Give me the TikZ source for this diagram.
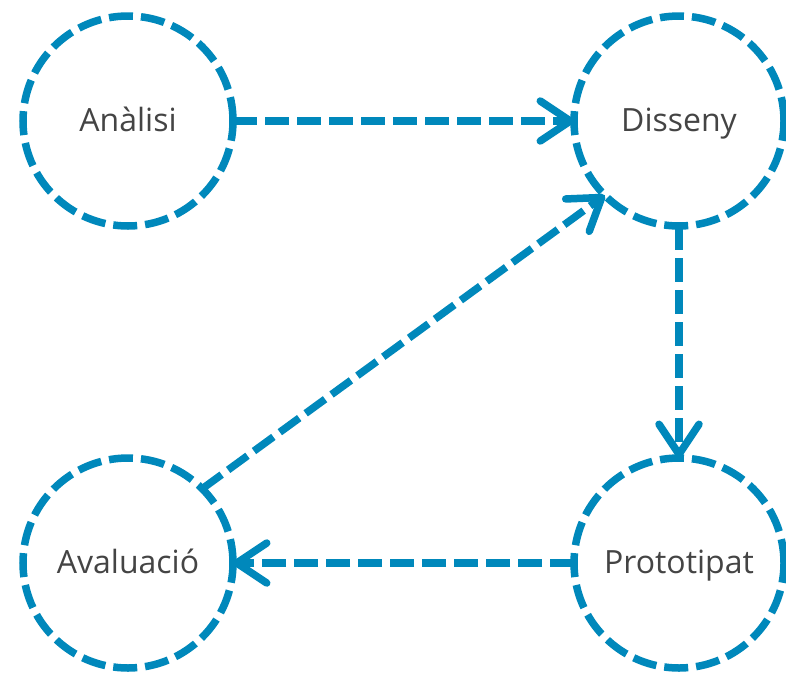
\documentclass[tikz,border=0pt]{standalone}
\usepackage{fontspec}
\setmainfont{Open Sans}
\usetikzlibrary{arrows.meta}
\definecolor{cblue}{RGB}{0,136,187}
\definecolor{tgray}{RGB}{68,68,68}
\tikzset{
  phase/.style={circle, draw=cblue, line width=7.5pt, dash pattern=on 24pt off 8pt,
    minimum size=210pt, inner sep=0pt, outer sep=0pt, text=tgray,
    text height=21pt, text depth=0pt,
    font=\fontsize{32}{38}\selectfont},
  flow/.style={draw=cblue, line width=7.5pt, dash pattern=on 24pt off 8pt,
    -{Straight Barb[length=30pt,width=40pt,line cap=round,line join=round]}}
}
\begin{document}
\begin{tikzpicture}[x=1pt,y=-1pt]
\useasboundingbox (0,0) rectangle (786,675);
\node[phase] (ana) at (128,121) {Anàlisi};
\node[phase] (dis) at (679,121) {Disseny};
\node[phase] (ava) at (128,563) {Avaluació};
\node[phase] (pro) at (679,563) {Prototipat};
\draw[flow] (ana) -- (dis);
\draw[flow] (dis) -- (pro);
\draw[flow] (pro) -- (ava);
\draw[flow] (ava.north east) -- (dis.south west);
\end{tikzpicture}
\end{document}
